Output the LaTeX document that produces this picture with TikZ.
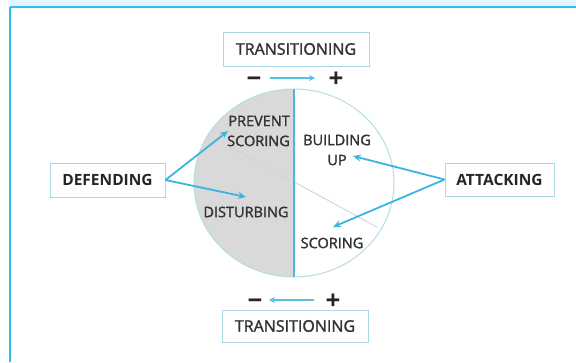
\documentclass[tikz,border=0pt]{standalone}
\usepackage{fontspec}
\setmainfont{Open Sans}
\newfontfamily\heavier{Open Sans}[FakeBold=1.6]
\usetikzlibrary{arrows.meta,shapes.geometric}

\definecolor{framecyan}{HTML}{2CC0F0}
\definecolor{bandfill}{HTML}{E2F5FC}
\definecolor{arrowblue}{HTML}{3AB5E0}
\definecolor{boxedge}{HTML}{A9D9E6}
\definecolor{rimblue}{HTML}{B2DDE7}
\definecolor{splitblue}{HTML}{4CB9D8}
\definecolor{halfgray}{HTML}{D9D9D9}
\definecolor{chord}{HTML}{C6D7DE}
\definecolor{ink}{HTML}{333333}

\begin{document}
\begin{tikzpicture}[x=1pt,y=-1pt,
  frameline/.style={draw=framecyan,line width=2.6pt},
  labelbox/.style={draw=boxedge,line width=0.9pt,fill=white,text=ink,
    font=\heavier\fontsize{16}{18}\selectfont,inner sep=0pt},
  rolebox/.style={labelbox,font=\bfseries\fontsize{15.5}{18}\selectfont,text=black!85},
  phase/.style={text=ink,font=\heavier\fontsize{14.5}{20}\selectfont,inner sep=0pt},
  sign/.style={text=black!85,font=\bfseries\fontsize{26}{26}\selectfont,inner sep=0pt,anchor=base},
  pointer/.style={draw=arrowblue,line width=1.8pt,
    -{Stealth[length=8pt,width=7pt]}},
  flow/.style={draw=arrowblue!85,line width=1.8pt,
    -{Stealth[length=6pt,width=6pt]}}]
\useasboundingbox (0,0) rectangle (576,362);

% page frame: tinted header band with cyan rules
\fill[bandfill] (10,0) rectangle (576,6);
\draw[frameline] (10,7) -- (576,7);
\draw[frameline] (10,7) -- (10,362);

% the phase disc, defensive half shaded
\node[ellipse,minimum width=200pt,minimum height=188pt,inner sep=0pt] (disc) at (294,183) {};
\begin{scope}
  \clip (190,80) rectangle (294,290);
  \fill[halfgray] (294,183) ellipse [x radius=100, y radius=94];
\end{scope}
\draw[chord,line width=0.9pt] (228,146) -- (377,227);
\draw[rimblue,line width=1pt] (294,183) ellipse [x radius=100, y radius=94];
\draw[splitblue,line width=1.4pt] (disc.north) -- (disc.south);

% phases inside the disc
\node[phase,align=right,anchor=east] (prevent) at (290,131) {PREVENT\\SCORING};
\node[phase,align=center] (building) at (337,150) {BUILDING\\UP};
\node[phase] (disturbing) at (246,212) {DISTURBING};
\node[phase] (scoring) at (332,243) {SCORING};

% boxes around the disc
\node[labelbox,minimum width=146pt,minimum height=34pt] (transTop) at (296,49) {TRANSITIONING};
\node[labelbox,minimum width=146pt,minimum height=32pt] (transBot) at (295,326) {TRANSITIONING};
\node[rolebox,minimum width=115pt,minimum height=34pt] (defending) at (107.5,180) {DEFENDING};
\node[rolebox,minimum width=109pt,minimum height=33pt] (attacking) at (499.5,179.5) {ATTACKING};

% transition direction markers, set on a common baseline
\node[sign] (minusTop) at (254,87) {−};
\node[sign] (plusTop) at (336,87) {+};
\node[sign] (minusBot) at (255,309) {−};
\node[sign] (plusBot) at (333,309) {+};
\coordinate (topFrom) at (270,78);
\coordinate (topTo) at (315,78);
\coordinate (botFrom) at (314,300);
\coordinate (botTo) at (269,300);
\draw[flow] (topFrom) -- (topTo);
\draw[flow] (botFrom) -- (botTo);

% arrow tips next to the phase labels
\coordinate (toPrevent) at (228,131);
\coordinate (toDisturbing) at (246,197);
\coordinate (toBuilding) at (353,156);
\coordinate (toScoring) at (333,227);

\draw[pointer] (defending.east) -- (toPrevent);
\draw[pointer] (defending.east) -- (toDisturbing);
\draw[pointer] (attacking.west) -- (toBuilding);
\draw[pointer] (attacking.west) -- (toScoring);
\end{tikzpicture}
\end{document}
